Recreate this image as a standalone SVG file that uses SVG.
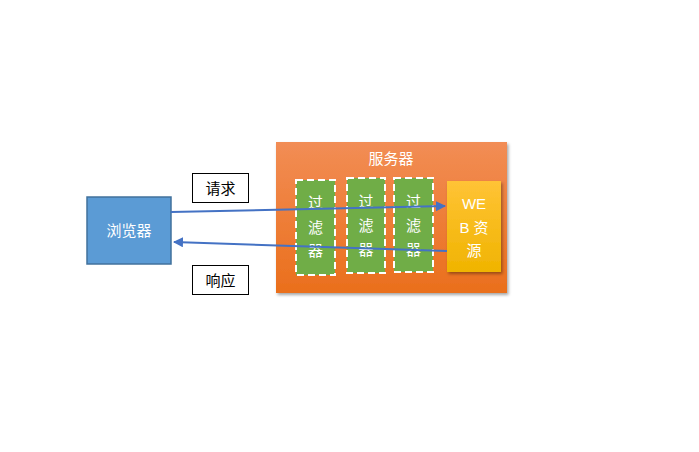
<svg xmlns="http://www.w3.org/2000/svg" width="699" height="452" viewBox="0 0 699 452">
<defs>
<linearGradient id="gOrange" x1="0" y1="0" x2="0" y2="1">
<stop offset="0" stop-color="#F28D55"/>
<stop offset="1" stop-color="#EA6F1C"/>
</linearGradient>
<linearGradient id="gYellow" x1="0" y1="0" x2="0" y2="1">
<stop offset="0" stop-color="#FFC336"/>
<stop offset="1" stop-color="#F0B400"/>
</linearGradient>
<filter id="sh" x="-10%" y="-10%" width="130%" height="130%">
<feDropShadow dx="1.5" dy="2" stdDeviation="1.5" flood-color="#000" flood-opacity="0.35"/>
</filter>
<marker id="arr" viewBox="0 0 10 10" refX="9" refY="5" markerWidth="5" markerHeight="5" orient="auto-start-reverse" markerUnits="strokeWidth">
<path d="M0,0 L10,5 L0,10 Z" fill="#4472C4"/>
</marker>
</defs>
<style>
text{font-family:"Liberation Sans","Noto Sans CJK SC",sans-serif;font-size:15px;text-anchor:middle}
.w{fill:#fff}
.k{fill:#000}
.flt{fill:#70AD47;stroke:#fff;stroke-width:2;stroke-dasharray:7 4}
.lbl{fill:#fff;stroke:#000;stroke-width:1}
.con{stroke:#4472C4;stroke-width:2;fill:none}
</style>
<rect width="699" height="452" fill="#fff"/>
<g id="server">
<rect x="276" y="142" width="231" height="151" fill="url(#gOrange)" filter="url(#sh)"/>
<text class="w" x="391" y="164">服务器</text>
</g>
<g id="filter1">
<rect class="flt" x="296" y="180" width="39" height="95"/>
<text class="w" x="315.5" y="208">过</text>
<text class="w" x="315.5" y="233">滤</text>
<text class="w" x="315.5" y="256">器</text>
</g>
<g id="filter2">
<rect class="flt" x="347" y="178" width="38" height="95"/>
<text class="w" x="366" y="207">过</text>
<text class="w" x="366" y="231">滤</text>
<text class="w" x="366" y="255">器</text>
</g>
<g id="filter3">
<rect class="flt" x="394" y="178" width="39" height="94"/>
<text class="w" x="413.5" y="207">过</text>
<text class="w" x="413.5" y="231">滤</text>
<text class="w" x="413.5" y="255">器</text>
</g>
<g id="web">
<rect x="447" y="181" width="54" height="91" fill="url(#gYellow)" filter="url(#sh)"/>
<text class="w" x="474" y="209">WE</text>
<text class="w" x="474" y="233">B 资</text>
<text class="w" x="474" y="256">源</text>
</g>
<g id="browser">
<rect x="87" y="197" width="84" height="67" fill="#5B9BD5" stroke="#41719C" stroke-width="1.5"/>
<text class="w" x="129" y="236">浏览器</text>
</g>
<g id="label-request">
<rect class="lbl" x="192.5" y="173.5" width="56" height="29"/>
<text class="k" x="220.5" y="194">请求</text>
</g>
<g id="label-response">
<rect class="lbl" x="192.5" y="265.5" width="56" height="29"/>
<text class="k" x="220.5" y="286">响应</text>
</g>
<g id="connectors">
<line class="con" x1="171" y1="212" x2="445" y2="206" marker-end="url(#arr)"/>
<line class="con" x1="447" y1="251" x2="174" y2="242" marker-end="url(#arr)"/>
</g>
</svg>
